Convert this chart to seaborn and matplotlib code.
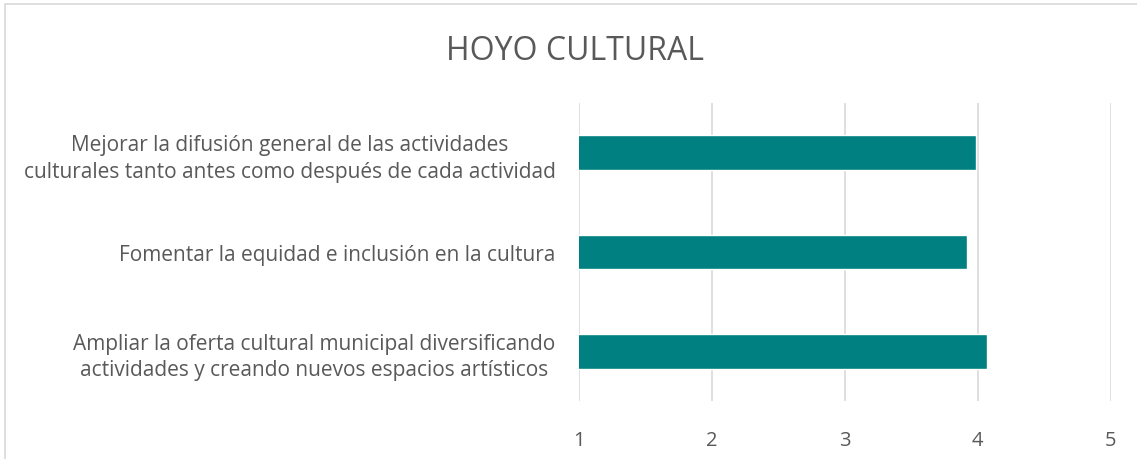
import matplotlib
matplotlib.use("Agg")
import matplotlib.pyplot as plt
import seaborn as sns
import pandas as pd
from matplotlib.patches import Rectangle

categories = [
    "Mejorar la difusión general de las actividades\nculturales tanto antes como después de cada actividad",
    "Fomentar la equidad e inclusión en la cultura",
    "Ampliar la oferta cultural municipal diversificando\nactividades y creando nuevos espacios artísticos",
]
values = [3.99, 3.92, 4.07]
x_ticks = [1, 2, 3, 4, 5]
title = "HOYO CULTURAL"

sns.set_theme(style="white")
plt.rcParams['font.family'] = ['Open Sans', 'DejaVu Sans']

df = pd.DataFrame({"cat": categories, "val": values})

fig = plt.figure(figsize=(11.37, 4.6), dpi=100)
ax = fig.add_axes([579/1137, 1-402/460, (1110.7-579)/1137, (402-104)/460])

sns.barplot(data=df, x="val", y="cat", orient="h", color="#008080",
            saturation=1, width=0.35, ax=ax, zorder=3)

ax.set_xlim(1, 5)
ax.set_xticks(x_ticks)
ax.set_xticklabels([str(t) for t in x_ticks])
ax.set_xlabel("")
ax.set_ylabel("")
ax.grid(axis="x", color="#d9d9d9", linewidth=1.2, zorder=0)
ax.grid(axis="y", visible=False)
for s in ax.spines.values():
    s.set_visible(False)
ax.tick_params(axis="x", length=0, pad=21, labelsize=14.5, labelcolor="#595959")
ax.tick_params(axis="y", length=0, pad=17, labelsize=15, labelcolor="#595959")
for lbl in ax.get_yticklabels():
    lbl.set_multialignment("center")
    lbl.set_linespacing(1.35)

fig.text(575/1137, 1-51/460, title, ha="center", va="center",
         fontsize=23, color="#595959")

fig.patches.append(Rectangle((4.5/1137, -0.1), 1.2, 1-4.5/460+0.1,
                             transform=fig.transFigure, fill=False,
                             edgecolor="#d9d9d9", linewidth=1.2))

fig.savefig("out.png", dpi=100, facecolor="white")
